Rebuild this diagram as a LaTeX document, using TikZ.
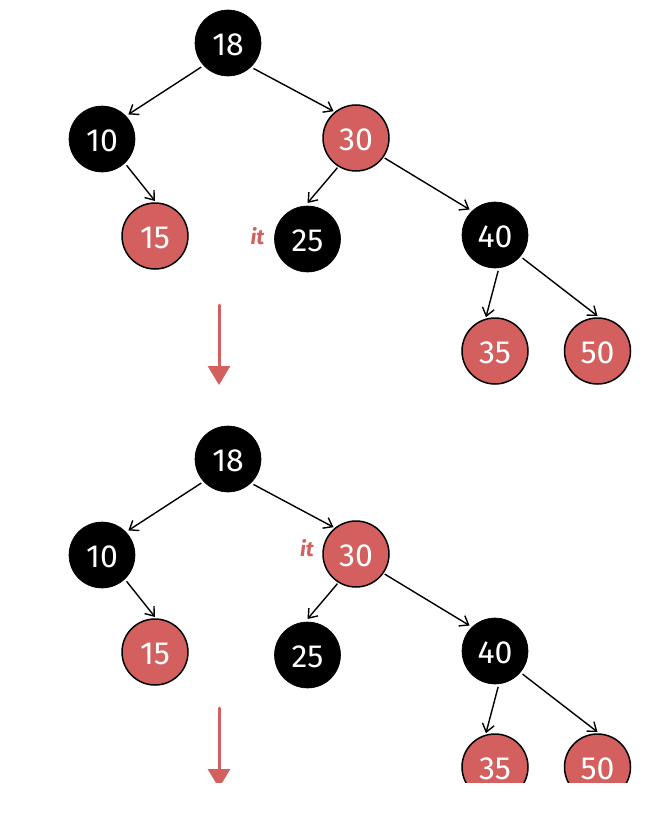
\documentclass[tikz,border=0pt]{standalone}
\usepackage{fontspec}
\setmainfont{Fira Sans}
\usetikzlibrary{arrows.meta,positioning}
\definecolor{rbred}{HTML}{D35F5F}
\tikzset{
  blacknode/.style={
    circle, draw=black, fill=black, text=white, line width=0.6pt,
    minimum size=66pt, inner sep=0pt, outer sep=3pt, text height=25pt, text depth=0pt,
    font=\fontsize{32}{34}\selectfont
  },
  rednode/.style={
    circle, draw=black, fill=rbred, text=white, line width=1.5pt,
    minimum size=66pt, inner sep=0pt, outer sep=2pt, text height=25pt, text depth=0pt,
    font=\fontsize{32}{34}\selectfont
  },
  treeedge/.style={
    -{Straight Barb[length=8pt,width=12pt]}, line width=1.4pt, color=black
  },
  steparrow/.style={
    -{Triangle[length=19pt,width=22pt]}, line width=3pt, color=rbred, line cap=round
  },
  itlabel/.style={
    text=rbred, inner sep=0pt, font=\fontsize{21}{23}\selectfont\bfseries\itshape
  },
}
\begin{document}
\begin{tikzpicture}[x=1pt, y=-1pt]
\useasboundingbox (0,0) rectangle (661,816);
\begin{scope}
\clip (0,0) rectangle (661,782);
% Before
\node[blacknode] (a18) at (228,43) {18};
\node[blacknode] (a10) at (102,139) {10};
\node[rednode] (a30) at (356,138) {30};
\node[rednode] (a15) at (155,236) {15};
\node[blacknode] (a25) at (307.5,239) {25};
\node[blacknode] (a40) at (495,235) {40};
\node[rednode] (a35) at (495,351) {35};
\node[rednode] (a50) at (597.5,351) {50};
\node[itlabel, left=7pt of a25, yshift=3pt] (ait) {it};
\draw[treeedge] (a18.-138) -- (a10.43);
\draw[treeedge] (a18.south east) -- (a30.130);
\draw[treeedge] (a10.-47) -- (a15.north);
\draw[treeedge] (a30.-122) -- (a25.north);
\draw[treeedge] (a30.-35) -- (a40.135);
\draw[treeedge] (a40.-85) -- (a35.105);
\draw[treeedge] (a40.-40) -- (a50.north);
\coordinate (adown) at (219,305);
\coordinate (aend) at (219,385);
\draw[steparrow] (adown) -- (aend);

% After
\node[blacknode] (b18) at (228,459) {18};
\node[blacknode] (b10) at (102,555) {10};
\node[rednode] (b30) at (356,554) {30};
\node[rednode] (b15) at (155,652) {15};
\node[blacknode] (b25) at (307.5,655) {25};
\node[blacknode] (b40) at (495,651) {40};
\node[rednode] (b35) at (495,767) {35};
\node[rednode] (b50) at (597.5,767) {50};
\node[itlabel, left=7pt of b30, yshift=6pt] (bit) {it};
\draw[treeedge] (b18.-138) -- (b10.43);
\draw[treeedge] (b18.south east) -- (b30.130);
\draw[treeedge] (b10.-47) -- (b15.north);
\draw[treeedge] (b30.-122) -- (b25.north);
\draw[treeedge] (b30.-35) -- (b40.135);
\draw[treeedge] (b40.-85) -- (b35.105);
\draw[treeedge] (b40.-40) -- (b50.north);
\coordinate (bdown) at (219,708);
\coordinate (bend) at (219,788);
\draw[steparrow] (bdown) -- (bend);
\end{scope}
\end{tikzpicture}
\end{document}
